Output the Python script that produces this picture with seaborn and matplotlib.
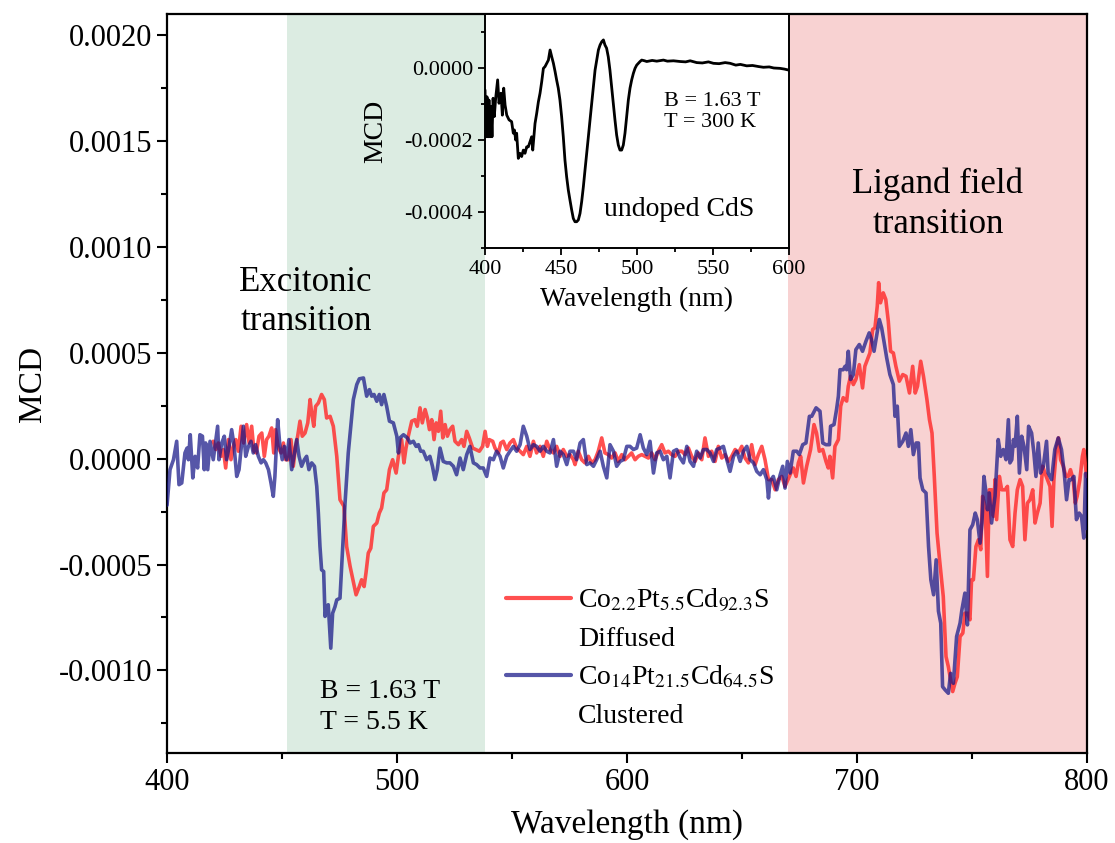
import numpy as np
import pandas as pd
import matplotlib
matplotlib.use("Agg")
import matplotlib.pyplot as plt
import seaborn as sns
from matplotlib.lines import Line2D
from matplotlib.ticker import MultipleLocator, FormatStrFormatter

# ---------------------------------------------------------------------------
# Data (MCD values are given in units of 1e-4)
# ---------------------------------------------------------------------------
MCD_UNIT = 1e-4

diffused_nm = [
    420.1, 421.2, 422.3, 423.5, 424.5, 425.5, 426.7, 427.8, 428.8, 429.9,
    431.0, 432.2, 433.3, 434.6, 435.7, 436.8, 437.8, 438.8, 440.0, 441.2,
    442.3, 443.3, 444.3, 445.5, 446.4, 447.2, 448.4, 449.6, 450.6, 451.6,
    452.8, 453.9, 454.9, 455.9, 456.8, 457.8, 458.8, 460.0, 461.2, 462.2,
    462.9, 463.8, 464.6, 465.8, 467.2, 468.4, 469.4, 470.9, 472.3, 473.8,
    475.2, 476.9, 478.1, 479.6, 481.0, 482.2, 483.6, 484.6, 485.7, 486.5,
    487.5, 488.6, 489.7, 491.2, 492.3, 493.3, 494.3, 495.5, 496.7, 498.1,
    499.6, 500.6, 502.0, 503.0, 503.9, 504.9, 506.4, 507.8, 508.8, 510.0,
    511.0, 512.2, 513.2, 514.1, 515.1, 516.1, 517.0, 518.0, 519.0, 519.9,
    520.9, 521.9, 523.0, 524.2, 525.2, 526.7, 528.1, 529.1, 530.3, 531.4,
    532.9, 534.3, 535.8, 537.2, 538.3, 539.3, 540.1, 541.6, 542.6, 544.1,
    545.1, 546.2, 547.7, 549.1, 550.6, 552.0, 553.5, 554.9, 556.4, 557.8,
    559.3, 560.7, 562.2, 563.6, 565.1, 566.5, 568.0, 569.4, 570.9, 572.3,
    573.8, 575.2, 576.7, 577.4, 578.8, 580.3, 581.7, 583.2, 584.6, 586.1,
    587.5, 589.0, 590.4, 591.9, 593.3, 594.8, 596.2, 597.7, 599.1, 600.6,
    602.0, 603.5, 604.9, 606.4, 607.8, 609.3, 610.7, 612.2, 613.6, 615.1,
    616.5, 618.0, 619.4, 620.9, 622.3, 623.8, 625.2, 626.7, 628.1, 629.6,
    631.0, 632.5, 633.9, 635.4, 636.8, 638.3, 639.7, 641.2, 642.6, 644.1,
    645.5, 647.0, 648.4, 649.9, 651.3, 652.8, 654.2, 655.7, 657.1, 658.6,
    660.0, 661.5, 662.9, 664.4, 665.8, 667.3, 668.7, 670.9, 672.3, 673.5,
    674.5, 675.5, 676.7, 678.1, 679.8, 681.3, 682.4, 683.6, 685.1, 686.5,
    687.5, 688.2, 689.4, 690.4, 691.9, 692.9, 694.0, 695.5, 696.2, 697.2,
    698.4, 699.5, 701.0, 702.4, 703.4, 704.5, 705.6, 706.8, 707.8, 708.8,
    709.4, 710.2, 711.4, 712.5, 713.6, 714.6, 715.8, 716.9, 718.4, 719.9,
    721.3, 722.8, 724.2, 725.3, 726.3, 727.7, 728.9, 730.4, 731.5, 732.6,
    733.6, 734.8, 735.9, 737.5, 738.7, 739.7, 740.7, 741.6, 742.6, 743.6,
    744.8, 746.0, 746.9, 748.0, 749.1, 749.8, 750.6, 751.7, 752.8, 753.8,
    754.6, 755.7, 756.7, 757.5, 758.5, 759.3, 760.0, 760.7, 761.9, 762.9,
    764.4, 765.4, 766.5, 767.7, 768.7, 769.7, 770.9, 772.0, 773.0, 774.1,
    775.2, 776.4, 777.4, 778.4, 779.6, 780.7, 781.7, 782.8, 783.9, 784.8,
    785.6, 786.8, 787.6, 788.5, 789.7, 790.8, 791.8, 792.8, 794.0, 794.9,
    795.7, 796.9, 798.0, 798.6, 799.8,
]
diffused_mcd = [
    0.82, 0.43, 0.74, 0.11, 0.43, -0.44, 0.90, -0.05, 0.58, 0.90,
    0.35, 1.53, 0.74, 1.61, 0.74, 1.53, 0.35, 0.27, 1.06, 1.21,
    0.11, 0.90, 1.06, 1.45, 0.27, 1.37, 0.50, 0.27, 0.74, -0.05,
    -0.05, 0.90, -0.36, 0.58, 1.06, 1.77, 1.06, 1.21, 1.69, 2.79,
    2.16, 1.53, 2.47, 2.63, 3.03, 2.79, 1.92, 2.00, 1.53, 0.11,
    -1.94, -2.25, -4.15, -5.09, -5.80, -6.43, -6.04, -5.72, -6.04, -5.40,
    -4.46, -4.23, -3.20, -3.04, -2.57, -2.33, -1.62, -1.47, -0.52, -0.05,
    -0.68, 0.11, 0.90, -0.20, 0.50, 1.06, 1.77, 1.84, 1.53, 2.40,
    1.69, 2.32, 1.92, 1.37, 1.84, 0.90, 1.69, 1.29, 2.24, 0.98,
    1.61, 1.06, 1.37, 1.53, 0.82, 0.66, 0.90, 0.58, 1.29, 0.98,
    0.50, 0.43, 0.35, 0.58, 1.29, 0.58, 0.90, 0.82, 0.50, 0.27,
    0.74, 0.82, 0.43, 0.74, 0.90, 0.50, 0.35, 0.19, 0.58, 0.11,
    0.82, 0.27, 0.58, 0.11, 0.82, 0.43, 0.27, 0.58, 0.11, 0.43,
    0.11, 0.19, -0.05, -0.28, 0.35, -0.05, -0.20, 0.11, -0.20, -0.05,
    0.35, 0.98, 0.27, 0.19, 0.03, 0.27, -0.13, 0.19, -0.05, 0.11,
    0.27, -0.05, 0.11, 0.19, 0.11, 0.03, 0.27, -0.05, 0.35, 0.66,
    0.27, 0.35, 0.19, 0.11, 0.35, 0.35, 0.19, 0.50, 0.11, -0.13,
    0.27, -0.05, 0.98, 0.11, 0.35, -0.13, 0.58, 0.03, 0.19, -0.13,
    0.11, 0.43, 0.27, 0.58, 0.03, -0.20, 0.66, -0.28, 0.19, 0.58,
    -0.05, -0.99, -0.99, -1.47, -0.99, -0.84, -1.31, -0.76, -0.44, -0.84,
    -0.20, 0.11, -1.15, -0.36, 0.43, 1.61, 1.21, 0.35, 0.43, -0.13,
    -0.44, 0.11, -0.91, 0.58, 0.90, 2.48, 2.88, 2.72, 3.42, 3.89,
    3.50, 3.74, 4.44, 3.34, 4.36, 4.68, 4.99, 6.10, 6.18, 7.20,
    8.31, 7.36, 7.83, 7.52, 6.49, 5.07, 4.99, 4.36, 3.66, 3.97,
    3.89, 3.10, 4.36, 3.10, 3.42, 4.60, 3.89, 2.79, 1.84, 1.21,
    -0.84, -3.52, -4.78, -6.51, -9.35, -9.82, -10.45, -11.00, -10.61, -10.30,
    -8.40, -8.24, -7.30, -7.30, -7.61, -5.72, -5.72, -4.15, -3.83, -4.30,
    -1.78, -2.25, -5.56, -1.47, -1.47, -2.72, -0.99, -2.88, -0.84, -1.47,
    -1.47, -1.31, -3.83, -4.15, -2.57, -1.47, -0.99, -1.31, -3.83, -2.10,
    -1.94, -1.47, -3.04, -2.57, -2.10, -0.36, -0.68, -0.99, -1.31, -3.20,
    -0.99, 0.58, 0.98, -0.05, -0.36, -0.84, -0.84, -0.52, -0.99, -2.10,
    -1.78, -0.99, 0.11, 0.43, -0.84,
]

clustered_nm = [
    400.0, 401.3, 402.8, 404.2, 405.2, 406.4, 407.8, 408.7, 409.3, 410.1,
    411.2, 412.2, 413.3, 414.3, 415.4, 416.2, 416.8, 417.7, 418.7, 420.1,
    422.0, 422.6, 423.8, 424.9, 425.9, 427.0, 428.1, 429.1, 430.3, 431.3,
    432.2, 433.2, 434.2, 435.4, 436.5, 437.5, 438.5, 439.7, 440.9, 441.9,
    442.9, 444.1, 445.2, 446.2, 446.9, 448.1, 449.1, 450.1, 451.0, 452.0,
    453.0, 454.2, 455.4, 456.4, 457.4, 458.5, 459.7, 460.7, 461.7, 462.9,
    464.1, 465.1, 465.8, 466.5, 467.2, 468.1, 468.7, 469.4, 470.1, 471.2,
    472.0, 473.0, 473.8, 475.2, 476.4, 477.4, 478.8, 479.9, 481.0, 482.5,
    483.6, 485.4, 486.8, 488.0, 489.0, 490.0, 491.2, 492.3, 493.3, 494.3,
    495.5, 496.7, 498.4, 499.9, 500.6, 501.3, 502.8, 504.5, 505.7, 507.1,
    508.3, 509.3, 510.3, 511.4, 512.9, 514.3, 515.4, 516.5, 517.5, 518.7,
    520.1, 521.6, 523.0, 524.5, 525.9, 527.4, 528.8, 530.3, 531.7, 533.2,
    534.6, 536.1, 537.5, 539.0, 540.4, 541.9, 543.3, 544.8, 546.2, 547.7,
    549.1, 550.6, 552.0, 553.5, 554.9, 556.4, 557.8, 559.3, 560.7, 562.2,
    563.6, 565.1, 566.5, 568.0, 569.4, 570.9, 572.3, 573.8, 575.2, 576.7,
    578.1, 579.6, 581.0, 582.5, 583.9, 585.4, 586.8, 588.3, 589.7, 591.2,
    592.6, 594.1, 595.5, 597.0, 598.4, 599.9, 601.3, 602.8, 604.2, 605.7,
    607.1, 608.6, 610.0, 611.5, 612.9, 614.4, 615.8, 617.3, 618.7, 620.2,
    621.6, 623.1, 624.5, 626.0, 627.4, 628.9, 630.3, 631.8, 633.2, 634.7,
    636.1, 637.6, 639.0, 640.5, 641.9, 643.4, 644.8, 646.3, 647.7, 649.2,
    650.6, 652.1, 653.5, 655.0, 656.4, 657.9, 659.3, 660.8, 661.5, 662.2,
    663.6, 665.1, 666.5, 667.7, 668.7, 669.7, 670.9, 672.3, 673.8, 674.9,
    676.4, 677.8, 679.3, 680.3, 682.2, 683.9, 685.1, 686.5, 688.0, 688.5,
    690.0, 691.1, 691.9, 692.6, 694.0, 694.8, 695.5, 696.2, 697.2, 698.4,
    699.5, 701.0, 702.4, 703.9, 705.3, 706.3, 707.4, 708.5, 709.7, 710.7,
    711.7, 712.9, 714.3, 715.8, 716.5, 717.5, 718.4, 719.9, 721.3, 722.3,
    723.4, 724.5, 725.7, 726.7, 727.4, 728.6, 730.0, 731.1, 732.1, 733.3,
    734.4, 735.4, 736.4, 737.2, 738.3, 739.7, 740.7, 741.9, 743.3, 744.8,
    745.6, 746.9, 748.0, 749.1, 750.3, 751.4, 752.3, 753.5, 754.3, 755.2,
    756.1, 756.7, 757.5, 758.5, 760.0, 761.4, 762.5, 763.6, 764.8, 765.8,
    766.5, 767.3, 768.0, 768.7, 769.7, 770.6, 771.6, 772.6, 773.8, 774.6,
    775.9, 776.9, 777.8, 778.8, 779.8, 781.0, 782.4, 783.1, 784.6, 786.0,
    787.5, 788.9, 790.1, 791.1, 792.2, 793.2, 794.3, 795.4, 796.6, 797.6,
    798.6, 799.4, 800.0,
]
clustered_mcd = [
    -2.20, -0.52, -0.05, 0.82, -1.23, -1.15, 0.27, 0.50, -0.05, 1.13,
    -0.91, 0.11, -0.44, 1.13, 1.06, -0.52, 0.74, -0.52, 0.82, -0.05,
    1.53, -0.05, 0.74, 1.06, -0.05, 0.58, 1.37, 0.66, -0.84, -0.52,
    0.43, 1.53, 0.11, 0.58, 0.82, 0.27, 0.66, 0.11, -0.20, -0.05,
    -0.20, -0.52, -1.15, -1.78, -0.84, 1.84, 0.58, -0.05, 0.58, -0.05,
    0.90, -0.52, 0.27, 0.90, 0.11, -0.36, -0.05, 0.11, -0.52, -0.20,
    -0.36, -1.31, -2.57, -4.15, -5.25, -5.33, -7.45, -6.98, -6.90, -8.95,
    -7.30, -7.00, -6.67, -6.59, -4.15, -2.10, 0.27, 1.53, 2.79, 3.50,
    3.77, 3.81, 2.95, 3.26, 2.95, 3.03, 2.71, 3.03, 2.55, 3.03,
    2.47, 1.77, 1.69, 1.06, 0.27, 0.98, 1.13, 0.98, 0.74, 0.82,
    0.58, 0.66, 0.35, 0.35, -0.05, 0.11, -0.36, -0.99, -0.52, 0.50,
    -0.13, -0.20, -0.20, -0.36, -0.76, 0.03, -0.52, 0.19, 0.58, -0.20,
    -0.28, -0.44, -0.44, -0.84, 0.03, -0.05, 0.35, 0.11, -0.44, 0.11,
    0.35, 0.58, 0.35, 0.66, 1.53, 1.06, 0.43, 0.66, 0.58, 0.35,
    0.58, 0.35, 0.27, 0.90, -0.36, 0.35, 0.19, -0.28, 0.35, 0.35,
    -0.05, 0.74, 0.90, -0.28, -0.20, -0.36, -0.05, 0.35, -0.36, -0.91,
    0.66, 0.35, -0.36, -0.13, -0.05, 0.58, 0.58, 0.43, 0.50, 1.13,
    0.50, 0.19, 0.82, -0.68, 0.27, 0.35, -0.05, 0.11, -0.91, 0.35,
    0.43, 0.03, -0.20, 0.58, -0.13, -0.36, 0.35, 0.03, 0.43, 0.43,
    0.27, -0.13, 0.43, 0.50, 0.58, -0.05, -0.60, 0.11, 0.35, -0.13,
    0.35, 0.58, -0.05, -0.20, -0.60, -0.76, -0.52, -0.99, -1.86, -1.06,
    -0.84, -1.47, -0.80, -0.36, -1.39, -0.13, -0.68, 0.35, 0.35, 0.19,
    0.66, 0.74, 2.00, 2.00, 2.40, 2.24, 0.74, 0.66, 0.66, 1.53,
    1.61, 2.32, 2.95, 4.20, 4.20, 4.36, 4.20, 5.07, 3.74, 3.97,
    5.15, 5.39, 5.07, 5.55, 5.94, 5.63, 5.07, 5.78, 6.57, 6.18,
    5.55, 4.76, 3.97, 3.50, 2.00, 2.48, 0.58, 0.82, 1.21, 0.58,
    1.37, 0.19, 0.74, 0.74, -0.91, -1.47, -1.62, -4.15, -5.72, -6.43,
    -4.78, -7.20, -7.77, -10.77, -10.92, -11.08, -10.14, -10.61, -8.40, -7.77,
    -7.14, -6.35, -7.85, -3.36, -3.12, -2.57, -2.88, -3.99, -3.04, -0.84,
    -1.62, -2.41, -1.62, -3.04, -1.78, 0.90, 0.11, 0.43, -0.05, 1.84,
    -0.20, -0.05, 0.90, 0.58, 2.00, -0.68, 1.06, 0.58, -0.52, 1.53,
    1.21, 0.27, -0.84, 0.74, -0.68, -0.36, 0.82, -0.68, -0.99, 0.43,
    0.98, 0.43, -0.68, -1.94, -0.99, -0.99, -0.84, -2.88, -2.57, -2.72,
    -3.75, -0.70, -3.30,
]

undoped_nm = [
    400.0, 400.7, 401.3, 402.0, 402.6, 403.3, 403.9, 404.6, 405.3, 406.1,
    407.0, 408.3, 409.2, 410.5, 411.4, 412.3, 413.2, 414.3, 415.8, 417.5,
    418.6, 419.3, 420.2, 420.8, 421.9, 423.0, 424.1, 425.2, 426.3, 427.4,
    428.5, 429.6, 430.7, 431.4, 432.9, 434.0, 435.1, 436.2, 437.3, 438.4,
    439.5, 440.6, 441.7, 442.8, 443.9, 445.0, 446.1, 447.1, 448.2, 449.3,
    450.4, 451.5, 452.6, 453.7, 454.8, 455.9, 457.0, 458.1, 459.2, 460.3,
    461.4, 462.5, 463.6, 464.7, 465.8, 466.9, 468.0, 469.1, 470.2, 471.3,
    472.4, 473.5, 474.6, 475.7, 476.8, 477.9, 478.9, 480.0, 481.1, 482.2,
    483.3, 484.4, 485.5, 486.6, 487.7, 488.8, 489.9, 491.0, 492.1, 493.2,
    494.3, 495.4, 496.5, 497.6, 498.7, 499.8, 500.9, 502.0, 503.1, 505.0,
    506.4, 510.0, 513.0, 517.4, 520.0, 524.0, 528.4, 532.0, 535.0, 539.3,
    543.0, 547.0, 550.3, 554.0, 558.0, 561.3, 565.0, 568.0, 572.2, 576.0,
    580.0, 583.2, 587.0, 590.0, 594.1, 597.0, 600.0,
]
undoped_mcd = [
    -0.61, -1.91, -0.80, -1.91, -0.89, -1.91, -1.07, -1.91, -0.84, -1.35,
    -0.84, -0.33, -0.98, -0.70, -1.31, -0.56, -1.03, -1.31, -1.44, -1.49,
    -1.81, -1.72, -2.00, -1.81, -2.51, -2.37, -2.46, -2.28, -2.37, -2.19,
    -2.19, -2.05, -1.91, -2.28, -1.54, -1.26, -0.94, -0.70, -0.38, -0.01,
    0.04, 0.13, 0.22, 0.50, 0.31, 0.13, -0.10, -0.33, -0.56, -0.89,
    -1.35, -1.91, -2.56, -3.02, -3.39, -3.67, -3.94, -4.18, -4.27, -4.27,
    -4.22, -4.04, -3.71, -3.30, -2.83, -2.37, -1.91, -1.44, -0.98, -0.52,
    -0.06, 0.22, 0.50, 0.64, 0.73, 0.78, 0.64, 0.55, 0.31, -0.06,
    -0.52, -0.98, -1.44, -1.86, -2.14, -2.28, -2.28, -2.14, -1.81, -1.35,
    -0.89, -0.56, -0.33, -0.15, -0.01, 0.08, 0.13, 0.18, 0.22, 0.20,
    0.18, 0.21, 0.19, 0.22, 0.19, 0.20, 0.18, 0.17, 0.20, 0.15,
    0.14, 0.17, 0.13, 0.12, 0.15, 0.13, 0.08, 0.10, 0.06, 0.07,
    0.04, 0.02, 0.03, 0.00, -0.01, -0.03, -0.06,
]

series_labels = [r"Co$_{2.2}$Pt$_{5.5}$Cd$_{92.3}$S", "Diffused",
                 r"Co$_{14}$Pt$_{21.5}$Cd$_{64.5}$S", "Clustered"]
excitonic_band = (452.2, 538.3)
ligand_band = (670.0, 800.0)

# ---------------------------------------------------------------------------
# Style
# ---------------------------------------------------------------------------
sns.set_style("ticks")
plt.rcParams["font.family"] = ["Liberation Serif", "DejaVu Serif"]
plt.rcParams["mathtext.fontset"] = "stix"
plt.rcParams["axes.unicode_minus"] = False
for key in ("text.color", "axes.labelcolor", "xtick.color", "ytick.color",
            "axes.edgecolor"):
    plt.rcParams[key] = "black"

RED = "#FF3131"
BLUE = "#151587"

diffused = pd.DataFrame({"nm": diffused_nm,
                         "mcd": np.array(diffused_mcd) * MCD_UNIT})
clustered = pd.DataFrame({"nm": clustered_nm,
                          "mcd": np.array(clustered_mcd) * MCD_UNIT})
undoped = pd.DataFrame({"nm": undoped_nm,
                        "mcd": np.array(undoped_mcd) * MCD_UNIT})

fig = plt.figure(figsize=(11.15, 8.43), dpi=100)
ax = fig.add_axes([0.1498, 0.1068, 0.8251, 0.8766])

ax.axvspan(*excitonic_band, color="#DCECE2", lw=0, zorder=0)
ax.axvspan(*ligand_band, color="#F8D2D2", lw=0, zorder=0)

sns.lineplot(data=diffused, x="nm", y="mcd", ax=ax, color=RED, lw=2.6,
             alpha=0.85, estimator=None, sort=False, legend=False, zorder=3)
sns.lineplot(data=clustered, x="nm", y="mcd", ax=ax, color=BLUE, lw=2.6,
             alpha=0.72, estimator=None, sort=False, legend=False, zorder=4)

ax.set_xlim(400, 800)
ax.set_ylim(-0.00139, 0.0021)
ax.xaxis.set_major_locator(MultipleLocator(100))
ax.xaxis.set_minor_locator(MultipleLocator(50))
ax.yaxis.set_major_locator(MultipleLocator(0.0005))
ax.yaxis.set_minor_locator(MultipleLocator(0.00025))
ax.yaxis.set_major_formatter(FormatStrFormatter("%.4f"))
ax.tick_params(which="both", direction="out", width=1.5, labelsize=22,
               top=False, right=False)
ax.tick_params(which="major", length=7)
ax.tick_params(which="minor", length=4)
for sp in ax.spines.values():
    sp.set_linewidth(1.6)
    sp.set_color("black")
ax.set_xlabel("Wavelength (nm)", fontsize=24, labelpad=9)
ax.set_ylabel("MCD", fontsize=24, labelpad=8)

ax.text(460.4, 0.00074, "Excitonic\ntransition", fontsize=25,
        ha="center", va="center", linespacing=1.27, zorder=5)
ax.text(735.2, 0.00120, "Ligand field\ntransition", fontsize=25,
        ha="center", va="center", linespacing=1.27, zorder=5)
ax.text(466.5, -0.001175, "B = 1.63 T\nT = 5.5 K", fontsize=20,
        ha="left", va="center", linespacing=1.32, zorder=5)

handles = [Line2D([], [], color=RED, lw=3, alpha=0.85),
           Line2D([], [], linestyle="none"),
           Line2D([], [], color=BLUE, lw=3, alpha=0.72),
           Line2D([], [], linestyle="none")]
ax.legend(handles, series_labels, loc="upper left",
          bbox_to_anchor=(0.368, 0.226), frameon=False, fontsize=20,
          handlelength=2.35, handletextpad=0.25, labelspacing=0.45,
          borderpad=0, borderaxespad=0)

# ---------------------------------------------------------------------------
# Inset: undoped CdS at room temperature
# ---------------------------------------------------------------------------
axin = fig.add_axes([0.435, 0.7058, 0.2726, 0.2776])
axin.set_facecolor("white")
sns.lineplot(data=undoped, x="nm", y="mcd", ax=axin, color="black", lw=2.0,
             estimator=None, sort=False, legend=False)
axin.set_xlim(400, 600)
axin.set_ylim(-0.0005, 0.00015)
axin.xaxis.set_major_locator(MultipleLocator(50))
axin.xaxis.set_minor_locator(MultipleLocator(25))
axin.yaxis.set_major_locator(MultipleLocator(0.0002))
axin.yaxis.set_minor_locator(MultipleLocator(0.0001))
axin.yaxis.set_major_formatter(FormatStrFormatter("%.4f"))
axin.tick_params(which="both", direction="out", width=1.3, labelsize=16,
                 top=False, right=False)
axin.tick_params(which="major", length=5)
axin.tick_params(which="minor", length=3)
for sp in axin.spines.values():
    sp.set_linewidth(1.4)
    sp.set_color("black")
axin.set_xlabel("Wavelength (nm)", fontsize=20, labelpad=6)
axin.set_ylabel("MCD", fontsize=20, labelpad=12)
axin.text(517.8, -0.000122, "B = 1.63 T\nT = 300 K", fontsize=16,
          ha="left", va="center", linespacing=1.2)
axin.text(527.6, -0.000394, "undoped CdS", fontsize=20,
          ha="center", va="center")

fig.savefig("out.png", dpi=100)
